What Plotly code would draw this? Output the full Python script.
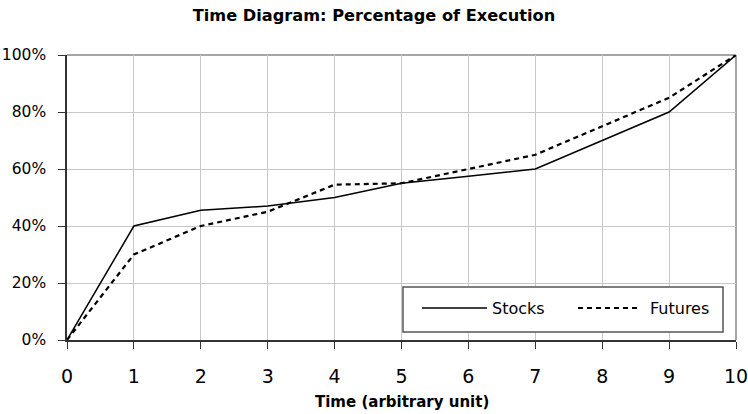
import plotly.graph_objects as go

time_units = [0, 1, 2, 3, 4, 5, 6, 7, 8, 9, 10]
stocks = [0, 40, 45.5, 47, 50, 55, 57.5, 60, 70, 80, 100]
futures = [0, 30, 40, 45, 54.5, 55, 60, 65, 75, 85, 100]
y_ticks = [0, 20, 40, 60, 80, 100]
y_tick_labels = ["0%", "20%", "40%", "60%", "80%", "100%"]
series_names = ["Stocks", "Futures"]

FONT = "DejaVu Sans, sans-serif"
W, H = 748, 414
L, R, T, B = 67, 12, 55, 74
PW, PH = W - L - R, H - T - B

def px(xp):
    return (xp - L) / PW

def py(yp):
    return (H - B - yp) / PH

stock_line = dict(color="black", width=1.5)
fut_line = dict(color="black", width=2.2, dash="5px,4px")

fig = go.Figure()
fig.add_trace(go.Scatter(x=time_units, y=stocks, name=series_names[0], mode="lines",
                         line=stock_line, showlegend=False, cliponaxis=False))
fig.add_trace(go.Scatter(x=time_units, y=futures, name=series_names[1], mode="lines",
                         line=fut_line, showlegend=False, cliponaxis=False))

fig.update_layout(
    width=W, height=H,
    margin=dict(l=L, r=R, t=T, b=B, autoexpand=False),
    paper_bgcolor="white", plot_bgcolor="white",
    font=dict(family=FONT, color="black", size=16),
    title=dict(text="<b>Time Diagram: Percentage of Execution</b>", x=0.5, xanchor="center",
               xref="container", y=1 - 15 / H, yanchor="middle", font=dict(size=16.2, family=FONT)),
    showlegend=False,
    xaxis=dict(range=[0, 10], tickmode="array", tickvals=time_units,
               showgrid=True, gridcolor="#c8c8c8", gridwidth=1,
               showline=True, linecolor="#333333", linewidth=1.5,
               ticks="outside", ticklen=7, tickcolor="#333333", tickwidth=1.2,
               tickfont=dict(size=19), zeroline=False, automargin=False,
               ticklabelstandoff=11, ticklabeloverflow="allow"),
    yaxis=dict(range=[0, 100], tickmode="array", tickvals=y_ticks, ticktext=y_tick_labels,
               showgrid=True, gridcolor="#c8c8c8", gridwidth=1,
               showline=True, linecolor="#333333", linewidth=1.5,
               ticks="outside", ticklen=7, tickcolor="#333333", tickwidth=1.2,
               tickfont=dict(size=15.5), zeroline=False, automargin=False,
               ticklabelstandoff=9, ticklabeloverflow="allow"),
)

# top and right frame
fig.add_shape(type="line", xref="paper", yref="paper", x0=0, y0=1, x1=1, y1=1,
              line=dict(color="#888888", width=1.5), layer="below")
fig.add_shape(type="line", xref="paper", yref="paper", x0=1, y0=0, x1=1, y1=1,
              line=dict(color="#888888", width=1.5), layer="below")

# x axis title
fig.add_annotation(text="<b>Time (arbitrary unit)</b>", xref="paper", yref="paper",
                   x=0.5, y=py(402), xanchor="center", yanchor="middle",
                   showarrow=False, font=dict(size=15, family=FONT))

# legend box (manual, to match the sample line lengths)
fig.add_shape(type="rect", xref="paper", yref="paper",
              x0=px(403), x1=px(723), y0=py(332), y1=py(287),
              line=dict(color="#555555", width=1.5), fillcolor="white", layer="above")
fig.add_shape(type="line", xref="paper", yref="paper",
              x0=px(422), x1=px(487), y0=py(308), y1=py(308), line=stock_line, layer="above")
fig.add_shape(type="line", xref="paper", yref="paper",
              x0=px(578), x1=px(641), y0=py(308), y1=py(308), line=fut_line, layer="above")
fig.add_annotation(text=series_names[0], xref="paper", yref="paper", x=px(490), y=py(308),
                   xanchor="left", yanchor="middle", showarrow=False, font=dict(size=16))
fig.add_annotation(text=series_names[1], xref="paper", yref="paper", x=px(648), y=py(308),
                   xanchor="left", yanchor="middle", showarrow=False, font=dict(size=16))

fig.write_html("out.html", config={"displayModeBar": False},
               post_script="document.body.style.margin='0px';document.body.style.overflow='hidden';")
